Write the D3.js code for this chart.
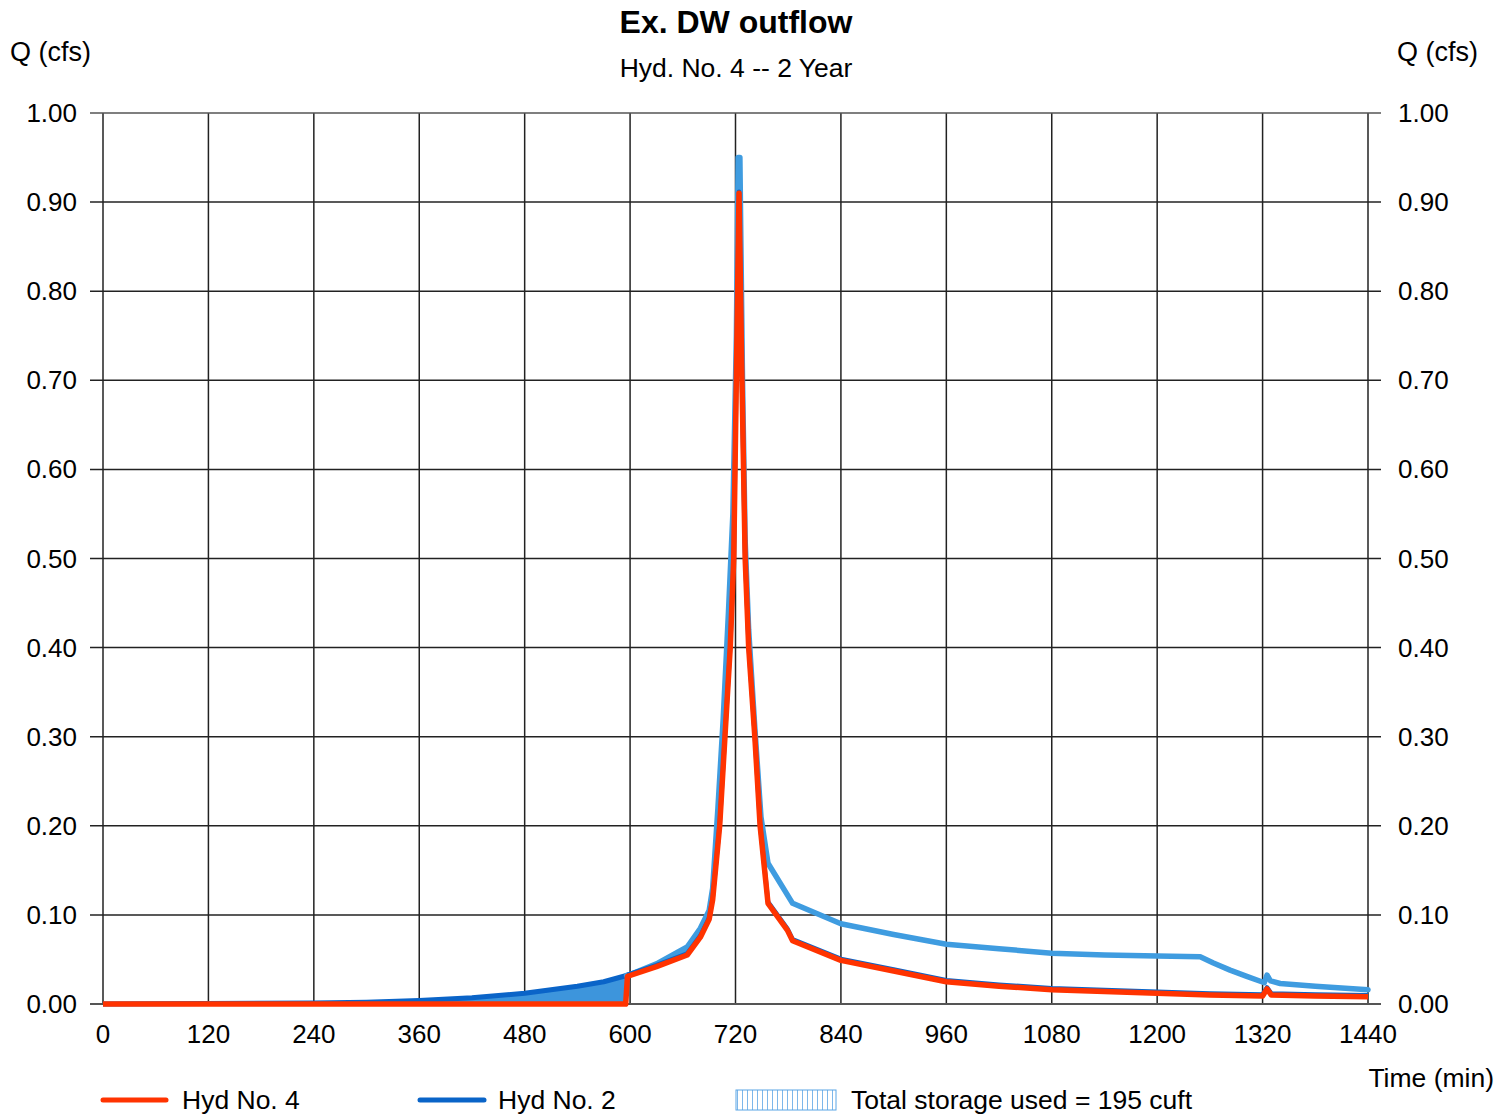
<!DOCTYPE html>
<html><head><meta charset="utf-8">
<script src="https://cdn.jsdelivr.net/npm/d3@7"></script>
<style>body{margin:0;background:#fff}svg{display:block;font-family:"Liberation Sans",Arial,sans-serif}</style>
</head><body>
<svg id="c" width="1512" height="1114"></svg>
<script>
// ---- data ----
const xTicks = [0,120,240,360,480,600,720,840,960,1080,1200,1320,1440];
const yTicks = [0,0.1,0.2,0.3,0.4,0.5,0.6,0.7,0.8,0.9,1.0];
// Hyd No. 2 (inflow)
const inflowT = [0,240,300,360,420,480,540,570,596,600,630,665,680,690,694,700,706,712,717,721,723,725,728,731,735,742,749,757,785,840,900,960,1020,1080,1140,1200,1249,1264,1283,1302,1319,1322,1325,1329,1340,1380,1440];
const inflowQ = [0,0.001,0.002,0.004,0.007,0.012,0.020,0.025,0.032,0.033,0.045,0.064,0.085,0.105,0.13,0.22,0.32,0.44,0.55,0.75,0.95,0.95,0.70,0.52,0.42,0.31,0.21,0.158,0.113,0.090,0.078,0.067,0.062,0.057,0.055,0.054,0.053,0.046,0.038,0.031,0.025,0.024,0.0325,0.026,0.023,0.020,0.016];
// Hyd No. 4 (outflow)
const outflowT = [0,595,597,600,630,665,680,690,694,702,708,714,718,724,727,731,735,742,748,757,779,785,840,900,960,1020,1080,1140,1200,1260,1320,1325,1330,1380,1440];
const outflowQ = [0,0,0.031,0.032,0.042,0.055,0.075,0.095,0.117,0.20,0.30,0.40,0.50,0.91,0.72,0.50,0.40,0.30,0.20,0.113,0.083,0.071,0.049,0.037,0.025,0.020,0.016,0.014,0.012,0.010,0.009,0.017,0.010,0.009,0.008];
const storageLabel = "Total storage used = 195 cuft";

const inflow = inflowT.map((t,i)=>({t,q:inflowQ[i]}));
const outflow = outflowT.map((t,i)=>({t,q:outflowQ[i]}));

const svg = d3.select("#c");
const x = d3.scaleLinear().domain([0,1440]).range([103,1368]);
const y = d3.scaleLinear().domain([0,1]).range([1004,113]);

// grid
const g = svg.append("g");
g.selectAll("line.v").data(xTicks).join("line")
  .attr("x1",d=>x(d)).attr("x2",d=>x(d)).attr("y1",y(1)).attr("y2",y(0))
  .attr("stroke","#222").attr("stroke-width",1.5);
g.selectAll("line.h").data(yTicks).join("line")
  .attr("x1",90).attr("x2",1381).attr("y1",d=>y(d)).attr("y2",d=>y(d))
  .attr("stroke",(d)=> (d===0||d===1)?"#555":"#222").attr("stroke-width",d=>(d===0)?2:1.5);

// tick labels
const TF = 26;
svg.selectAll("text.yl").data(yTicks).join("text")
  .attr("x",77).attr("y",d=>y(d)+9).attr("text-anchor","end")
  .attr("font-size",TF).text(d=>d3.format(".2f")(d));
svg.selectAll("text.yr").data(yTicks).join("text")
  .attr("x",1398).attr("y",d=>y(d)+9).attr("text-anchor","start")
  .attr("font-size",TF).text(d=>d3.format(".2f")(d));
svg.selectAll("text.xl").data(xTicks).join("text")
  .attr("x",d=>x(d)).attr("y",1043).attr("text-anchor","middle")
  .attr("font-size",TF).text(d=>d);

// titles
svg.append("text").attr("x",736).attr("y",33).attr("text-anchor","middle")
  .attr("font-size",32).attr("font-weight","bold").text("Ex. DW outflow");
svg.append("text").attr("x",736).attr("y",77).attr("text-anchor","middle")
  .attr("font-size",26.5).text("Hyd. No. 4 -- 2 Year");
svg.append("text").attr("x",10).attr("y",61).attr("font-size",27).text("Q (cfs)");
svg.append("text").attr("x",1478).attr("y",61).attr("text-anchor","end").attr("font-size",27).text("Q (cfs)");
svg.append("text").attr("x",1494).attr("y",1087).attr("text-anchor","end").attr("font-size",26.5).text("Time (min)");

// storage fill (inflow above outflow on rising limb)
const qOut = t => {
  for(let i=1;i<outflow.length;i++){ if(t<=outflow[i].t){const a=outflow[i-1],b=outflow[i];return a.q+(b.q-a.q)*(t-a.t)/(b.t-a.t);} }
  return outflow[outflow.length-1].q;
};
const fillPts = inflow.filter(d=>d.t<=596).concat([{t:597,q:0.0325}]);
const areaPts = fillPts.map(d=>({t:d.t,q:d.q,q0:d.t<597?0:qOut(d.t)}));
svg.append("path").datum(areaPts)
  .attr("d",d3.area().x(d=>x(d.t)).y0(d=>y(d.q0)).y1(d=>y(d.q)))
  .attr("fill","#3d95dc");
const fill2 = inflow.filter(d=>d.t>=597 && d.t<=724).map(d=>({t:d.t,q:d.q,q0:Math.min(d.q,qOut(d.t))}));
svg.append("path").datum(fill2)
  .attr("d",d3.area().x(d=>x(d.t)).y0(d=>y(d.q0)).y1(d=>y(d.q)))
  .attr("fill","#3d95dc");

const line = d3.line().x(d=>x(d.t)).y(d=>y(d.q));
// inflow dark blue
svg.append("path").datum(inflow.filter(d=>d.t<=600)).attr("d",line)
  .attr("fill","none").attr("stroke","#0a64c8").attr("stroke-width",5).attr("stroke-linejoin","round");
// inflow light blue
svg.append("path").datum(inflow.filter(d=>d.t>=596)).attr("d",line)
  .attr("fill","none").attr("stroke","#3f9ce0").attr("stroke-width",5.5).attr("stroke-linejoin","round").attr("stroke-linecap","round");
// outflow dark edge + red
svg.append("path").datum(outflow.filter(d=>d.t>=597)).attr("d",line).attr("transform","translate(0,-1.5)")
  .attr("fill","none").attr("stroke","#0a64c8").attr("stroke-width",4.5).attr("stroke-linejoin","round");
svg.append("path").datum(outflow).attr("d",line)
  .attr("fill","none").attr("stroke","#ff3300").attr("stroke-width",5.5).attr("stroke-linejoin","round");

// legend
const defs = svg.append("defs");
const pat = defs.append("pattern").attr("id","hatch").attr("patternUnits","userSpaceOnUse").attr("width",5).attr("height",10);
pat.append("rect").attr("width",5).attr("height",10).attr("fill","#fff");
pat.append("line").attr("x1",2.5).attr("x2",2.5).attr("y1",0).attr("y2",10).attr("stroke","#7db7ea").attr("stroke-width",1);
svg.append("line").attr("x1",103).attr("x2",166).attr("y1",1100).attr("y2",1100).attr("stroke","#ff3300").attr("stroke-width",5).attr("stroke-linecap","round");
svg.append("text").attr("x",182).attr("y",1109).attr("font-size",26.5).text("Hyd No. 4");
svg.append("line").attr("x1",420).attr("x2",484).attr("y1",1100).attr("y2",1100).attr("stroke","#0a64c8").attr("stroke-width",5).attr("stroke-linecap","round");
svg.append("text").attr("x",498).attr("y",1109).attr("font-size",26.5).text("Hyd No. 2");
svg.append("rect").attr("x",736).attr("y",1090).attr("width",100).attr("height",20).attr("fill","url(#hatch)").attr("stroke","#5aa6e6").attr("stroke-width",1);
svg.append("text").attr("x",851).attr("y",1109).attr("font-size",26.5).text(storageLabel);
</script>
</body></html>
